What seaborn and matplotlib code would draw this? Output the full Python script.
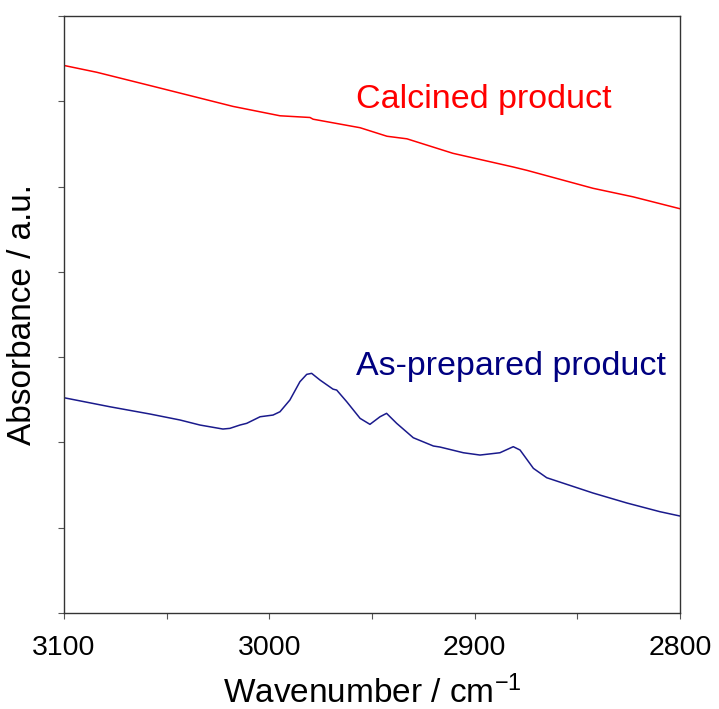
import numpy as np
import pandas as pd
import matplotlib
matplotlib.use("Agg")
import matplotlib.pyplot as plt
import seaborn as sns

# Data (wavenumber in cm-1, absorbance in a.u.)
calcined_wn = [3100, 3084, 3055.7, 3017.7, 2994.8, 2980.2, 2978.7, 2955.8, 2942.7,
               2933, 2910.6, 2881.3, 2874.5, 2842.4, 2822.9, 2800]
calcined_abs = [6.42, 6.34, 6.17, 5.94, 5.83, 5.81, 5.79, 5.69, 5.59,
                5.56, 5.39, 5.23, 5.19, 4.98, 4.88, 4.74]

asprep_wn = [3100, 3077.6, 3058.1, 3043.5, 3033.8, 3022.6, 3019.2, 3014.3, 3011, 3004.5,
             2998.2, 2994.8, 2990, 2985.1, 2981.8, 2979.4, 2975.3, 2969, 2967.2,
             2962.3, 2955.8, 2951, 2946.1, 2942.9, 2938, 2929.9, 2920.1, 2916.9,
             2905.5, 2897.4, 2887.7, 2881.2, 2877.9, 2871.4, 2864.9, 2842.4,
             2825.9, 2809.8, 2800]
asprep_abs = [2.524, 2.418, 2.333, 2.263, 2.204, 2.157, 2.165, 2.204, 2.224, 2.301,
              2.321, 2.36, 2.497, 2.712, 2.798, 2.81, 2.731, 2.625, 2.614,
              2.477, 2.282, 2.212, 2.301, 2.341, 2.224, 2.055, 1.958, 1.946,
              1.879, 1.852, 1.879, 1.95, 1.911, 1.696, 1.586, 1.407,
              1.29, 1.188, 1.137]

x_ticks = [3100, 3000, 2900, 2800]
x_minor = [3050, 2950, 2850]
labels = ["Calcined product", "As-prepared product"]

sns.set_style("ticks")
plt.rcParams["font.family"] = ["Liberation Sans", "DejaVu Sans"]
plt.rcParams["mathtext.fontset"] = "custom"
plt.rcParams["mathtext.rm"] = "Liberation Sans"
plt.rcParams["mathtext.it"] = "Liberation Sans"
plt.rcParams["text.color"] = "black"
plt.rcParams["axes.labelcolor"] = "black"
plt.rcParams["xtick.color"] = "black"
plt.rcParams["ytick.color"] = "black"

fig = plt.figure(figsize=(7.19, 7.09), dpi=100)
ax = fig.add_axes([64/719, 1 - 613/709, 616/719, 597/709])

df1 = pd.DataFrame({"wn": calcined_wn, "abs": calcined_abs})
df2 = pd.DataFrame({"wn": asprep_wn, "abs": asprep_abs})
sns.lineplot(data=df1, x="wn", y="abs", ax=ax, color="#ff0000", lw=1.1, sort=False)
sns.lineplot(data=df2, x="wn", y="abs", ax=ax, color="#1a1a8c", lw=1.1, sort=False)

ax.set_xlim(3100, 2800)
ax.set_ylim(0, 7)
ax.set_xticks(x_ticks)
ax.set_xticks(x_minor, minor=True)
ax.set_xticklabels([str(t) for t in x_ticks], fontsize=20.5)
ax.set_yticks(range(0, 8))
ax.set_yticklabels([])
ax.tick_params(axis="both", which="both", direction="out", length=4, width=0.8,
               color="#555555")
ax.tick_params(axis="x", which="major", pad=12, labelcolor="black")

for s in ax.spines.values():
    s.set_color("#333333")
    s.set_linewidth(1.0)

ax.set_xlabel("Wavenumber / cm$^{-1}$", fontsize=24, labelpad=10, color="black")
ax.set_ylabel("Absorbance / a.u.", fontsize=24, color="black")
ax.yaxis.set_label_coords(-0.042, 0.5)

ax.text(2957.8, 5.924, labels[0], color="#ff0000", fontsize=24.5, ha="left", va="baseline")
ax.text(2957.8, 2.79, labels[1], color="#000080", fontsize=24.5, ha="left", va="baseline")

fig.savefig("out.png", dpi=100, facecolor="white")
